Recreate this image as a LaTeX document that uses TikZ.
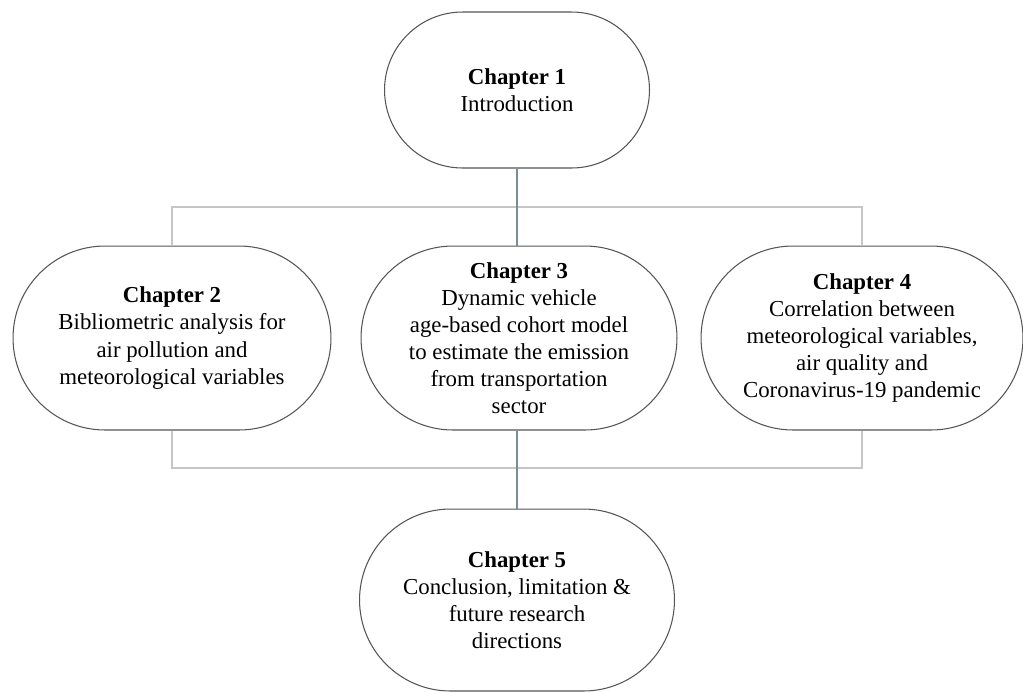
\documentclass[tikz,border=0pt]{standalone}
\usepackage{fontspec}
\setmainfont{Liberation Serif}
\usepackage{tikz}
\usetikzlibrary{shapes.misc}
\usetikzlibrary{positioning}
\definecolor{slate}{RGB}{125,138,155}
\definecolor{barline}{RGB}{198,198,198}
\definecolor{rim}{RGB}{85,85,85}
\tikzstyle{chap} = [rounded rectangle, draw=rim, line width=0.6pt, fill=white, align=center, inner sep=0pt, font=\fontsize{13}{15.4}\selectfont]
\tikzstyle{link} = [draw=slate, line width=0.9pt]
\tikzstyle{bar} = [draw=barline, line width=1pt]

\begin{document}
\begin{tikzpicture}[x=0.02cm, y=-0.02cm]
                \useasboundingbox (0, 0) rectangle (1023, 691);
                \coordinate (hi) at (517, 207);
                \coordinate (lo) at (517, 468);
                \node [chap, minimum width=5.3cm, minimum height=3.12cm] (ch1) at (517, 90) {\textbf{Chapter 1}\\Introduction};
                \node [chap, minimum width=6.36cm, minimum height=3.68cm] (ch2) at (172, 338) {\textbf{Chapter 2}\\Bibliometric analysis for\\air pollution and\\meteorological variables};
                \node [chap, minimum width=6.32cm, minimum height=3.68cm] (ch3) at (519, 338) {\textbf{Chapter 3}\\Dynamic vehicle\\age-based cohort model\\to estimate the emission\\from transportation\\sector};
                \node [chap, minimum width=6.44cm, minimum height=3.68cm] (ch4) at (862, 338) {\textbf{Chapter 4}\\Correlation between\\meteorological variables,\\air quality and\\Coronavirus-19 pandemic};
                \node [chap, minimum width=6.3cm, minimum height=3.64cm] (ch5) at (517, 600) {\textbf{Chapter 5}\\Conclusion, limitation \&\\future research\\directions};
                \draw [bar] (ch2.north) |- (hi) -| (ch4.north);
                \draw [bar] (ch2.south) |- (lo) -| (ch4.south);
                \draw [link] (ch1.south) -- (ch1.south |- ch3.north);
                \draw [link] (ch3.south -| ch5.north) -- (ch5.north);
            \end{tikzpicture}
\end{document}
